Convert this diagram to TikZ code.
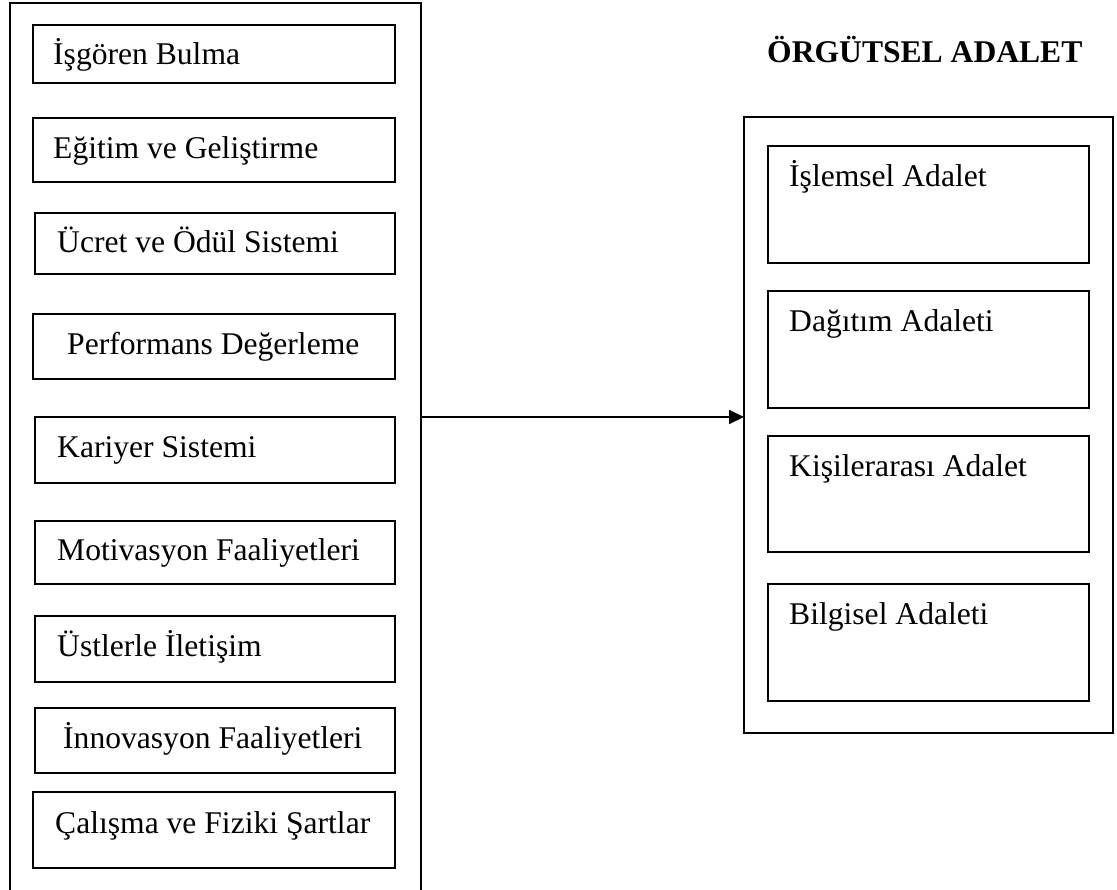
\documentclass[tikz,border=0pt]{standalone}
\usepackage{fontspec}
\setmainfont{Liberation Serif}
\usetikzlibrary{arrows.meta}
\tikzset{
  x=1pt, y=-1pt,
  box/.style={draw, line width=1.8pt, rectangle, anchor=north west, inner sep=0pt, outer sep=0pt},
  lbl/.style={anchor=base west, inner sep=0pt, font=\fontsize{31.6pt}{38pt}\selectfont},
  ttl/.style={anchor=base west, inner sep=0pt, font=\fontsize{31.6pt}{38pt}\selectfont\bfseries},
  arr/.style={line width=1.8pt, -{Triangle[length=15pt,width=14pt]}}
}
\newcommand{\lbox}[6]{% name, x1, y1, x2, y2
  \node[box, minimum width={#4-#2}, minimum height={#5-#3}] (#1) at (#2,#3) {};}
\begin{document}
\begin{tikzpicture}
\useasboundingbox (0,0) rectangle (1117,890);
\fill[white] (0,0) rectangle (1117,890);
% left outer box (open at bottom of page)
\node[box, minimum width=411pt, minimum height=897pt] (L) at (10,3) {};
% left inner boxes
\node[box, minimum width=362pt, minimum height=58pt] (b1) at (33,25) {};
\node[box, minimum width=362pt, minimum height=64pt] (b2) at (33,118) {};
\node[box, minimum width=360pt, minimum height=61pt] (b3) at (35,213) {};
\node[box, minimum width=362pt, minimum height=65pt] (b4) at (33,314) {};
\node[box, minimum width=360pt, minimum height=66pt] (b5) at (35,417) {};
\node[box, minimum width=360pt, minimum height=63pt] (b6) at (35,521) {};
\node[box, minimum width=360pt, minimum height=66pt] (b7) at (35,616) {};
\node[box, minimum width=360pt, minimum height=65pt] (b8) at (35,708) {};
\node[box, minimum width=362pt, minimum height=76pt] (b9) at (33,792) {};
% left labels
\node[lbl] (t1) at (53,65) {İşgören Bulma};
\node[lbl] (t2) at (53,159) {Eğitim ve Geliştirme};
\node[lbl] (t3) at (57,253) {Ücret ve Ödül Sistemi};
\node[lbl] (t4) at (67,355) {Performans Değerleme};
\node[lbl] (t5) at (57,457) {Kariyer Sistemi};
\node[lbl] (t6) at (57,560) {Motivasyon Faaliyetleri};
\node[lbl] (t7) at (57,656) {Üstlerle İletişim};
\node[lbl] (t8) at (63,748) {İnnovasyon Faaliyetleri};
\node[lbl] (t9) at (55,833) {Çalışma ve Fiziki Şartlar};
% title
\node[ttl] (title) at (767,63) {ÖRGÜTSEL ADALET};
% right outer box
\node[box, minimum width=369pt, minimum height=616pt] (R) at (744,117) {};
% right inner boxes
\node[box, minimum width=321pt, minimum height=117pt] (r1) at (768,146) {};
\node[box, minimum width=321pt, minimum height=117pt] (r2) at (768,291) {};
\node[box, minimum width=321pt, minimum height=116pt] (r3) at (768,436) {};
\node[box, minimum width=321pt, minimum height=117pt] (r4) at (768,584) {};
% right labels
\node[lbl] (s1) at (789,187) {İşlemsel Adalet};
\node[lbl] (s2) at (789,332) {Dağıtım Adaleti};
\node[lbl] (s3) at (789,476) {Kişilerarası Adalet};
\node[lbl] (s4) at (789,624) {Bilgisel Adaleti};
% arrow
\coordinate (ay) at (0,417);
\draw[arr] (L.east |- ay) -- (R.west |- ay);
\end{tikzpicture}
\end{document}
